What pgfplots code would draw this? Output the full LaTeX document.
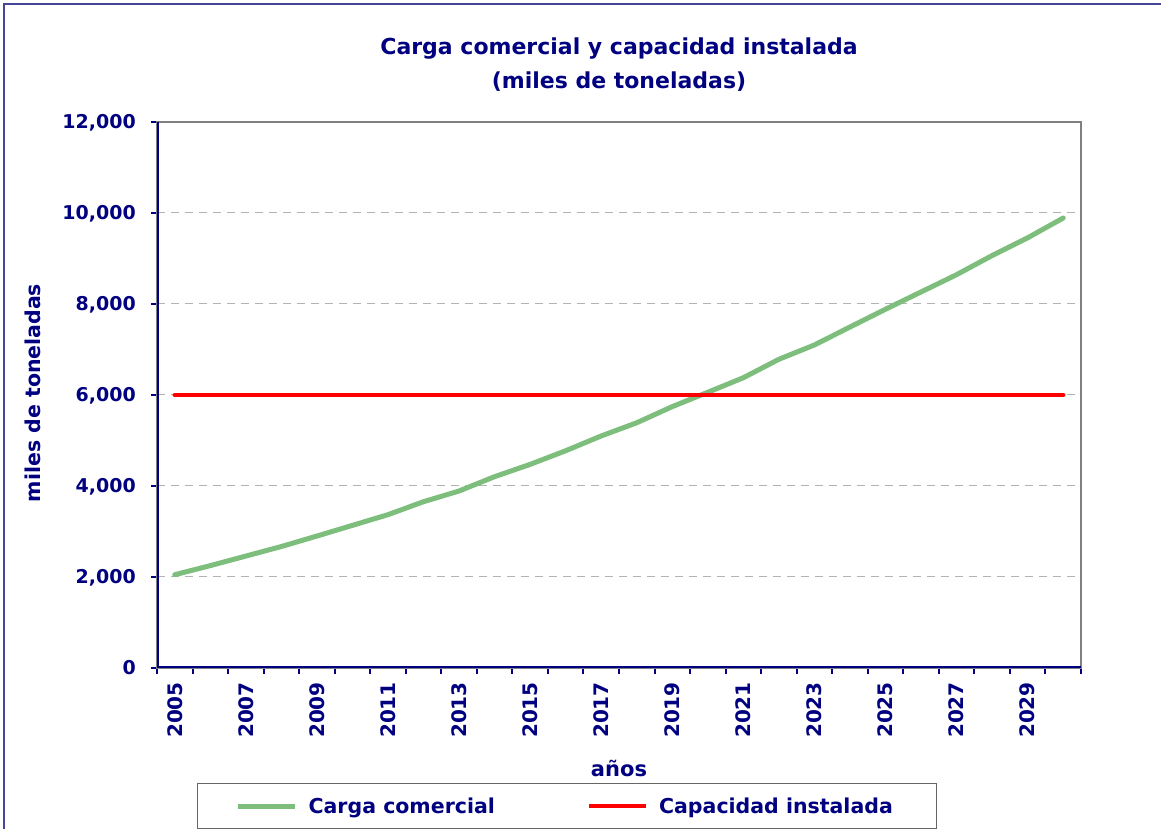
\documentclass[border=0pt]{standalone}
\usepackage{fontspec}
\setmainfont{DejaVu Sans}
\usepackage{pgfplots}
\usepackage{pgfplotstable}
\pgfplotsset{compat=1.18}
\definecolor{navy}{RGB}{0,0,128}
\definecolor{cgreen}{RGB}{125,190,125}
\definecolor{framec}{RGB}{70,70,150}

\pgfplotstableread{
x y
0 2050
1 2250
2 2460
3 2670
4 2900
5 3135
6 3370
7 3655
8 3890
9 4205
10 4475
11 4775
12 5100
13 5390
14 5745
15 6060
16 6380
17 6785
18 7100
19 7495
20 7885
21 8265
22 8645
23 9065
24 9455
25 9890
}\carga

\pgfplotstableread{
x y
0 6000
25 6000
}\capacidad

\begin{document}
\begin{tikzpicture}[x=1pt,y=1pt]
\path[use as bounding box] (0,0) rectangle (1161,829);
\draw[framec, line width=1.5pt] (4,0) -- (4,825) -- (1161,825);
\begin{axis}[
  at={(157pt,161pt)}, anchor=south west,
  scale only axis, width=924pt, height=546pt,
  xmin=-0.5, xmax=25.5, ymin=0, ymax=12000,
  axis line style={draw=gray, line width=1.5pt},
  xtick={-0.5,0.5,1.5,2.5,3.5,4.5,5.5,6.5,7.5,8.5,9.5,10.5,11.5,12.5,13.5,14.5,15.5,16.5,17.5,18.5,19.5,20.5,21.5,22.5,23.5,24.5,25.5},
  xticklabels={},
  extra x ticks={0,2,4,6,8,10,12,14,16,18,20,22,24},
  extra x tick labels={2005,2007,2009,2011,2013,2015,2017,2019,2021,2023,2025,2027,2029},
  extra x tick style={major tick length=0pt,
    xticklabel style={rotate=90, anchor=east, inner sep=0pt, xshift=-14pt,
      font=\fontsize{20}{22}\selectfont\bfseries,
      text height=14.5pt, text depth=0pt}},
  ytick={0,2000,4000,6000,8000,10000,12000},
  scaled y ticks=false,
  xtick pos=bottom, ytick pos=left,
  tick align=outside, major tick length=6pt,
  every tick/.style={navy, line width=2pt},
  ymajorgrids,
  major grid style={gray!60, line width=1pt, dash pattern=on 8pt off 6pt},
  ticklabel style={font=\fontsize{19}{22}\selectfont\bfseries, text=navy},
  yticklabel style={anchor=east, inner sep=0pt, xshift=-15pt, text height=13.8pt, text depth=0pt},
  /pgf/number format/1000 sep={,},
  /pgf/number format/assume math mode=true,
  xlabel={años},
  xlabel style={at={(axis description cs:0.5,-0.1996)}, anchor=base, inner sep=0pt,
    font=\fontsize{21}{24}\selectfont\bfseries, text=navy},
  ylabel={miles de toneladas},
  ylabel style={at={(axis description cs:-0.1342,0.5037)}, anchor=center, rotate=0, inner sep=0pt,
    font=\fontsize{20.5}{24}\selectfont\bfseries, text=navy},
  title={Carga comercial y capacidad instalada\\(miles de toneladas)},
  title style={at={(axis description cs:0.5,1.0512)}, anchor=base, align=center, inner sep=0pt,
    font=\fontsize{22}{33.5}\selectfont\bfseries, text=navy},
  legend style={at={(0.0433,-0.2106)}, anchor=north west, legend columns=2,
    draw=black!60, line width=1.2pt, inner xsep=38pt, inner ysep=14pt, column sep=11pt,
    font=\fontsize{20.5}{24}\selectfont\bfseries, text=navy, nodes={inner sep=0pt}},
  legend image code/.code={\draw[#1, line cap=butt] (0pt,0pt) -- (57pt,0pt);},
]
\addplot[cgreen, line width=5pt, line cap=round, line join=round] table[x=x,y=y] {\carga};
\addlegendentry{\makebox[267pt][l]{Carga comercial}}
\addplot[red, line width=4.5pt, line cap=round] table[x=x,y=y] {\capacidad};
\addlegendentry{\makebox[239pt][l]{Capacidad instalada}}
\draw[gray, line width=1.5pt] (rel axis cs:0,1) -- (rel axis cs:1,1) -- (rel axis cs:1,0);
\draw[navy, line width=3pt] (rel axis cs:0,1) -- (rel axis cs:0,0) -- (rel axis cs:1,0);
\end{axis}
\end{tikzpicture}
\end{document}
